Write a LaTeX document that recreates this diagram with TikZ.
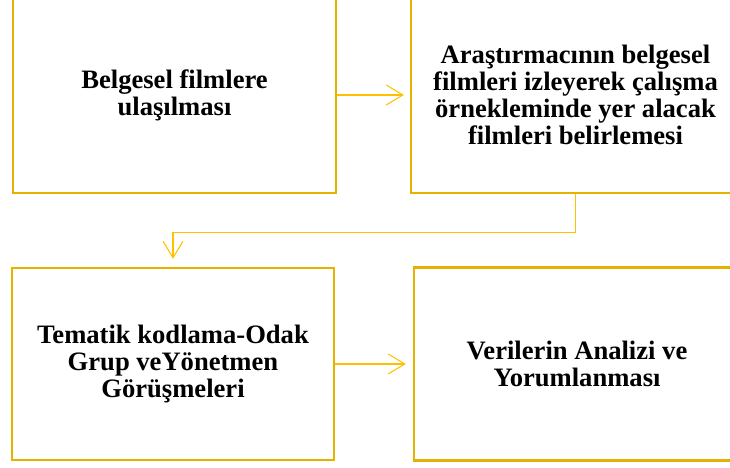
\documentclass[tikz,border=0pt]{standalone}
\usepackage{fontspec}
\setmainfont{Liberation Serif}
\usepackage{tikz}
\usetikzlibrary{positioning, arrows.meta, calc}

\definecolor{boxgold}{RGB}{230,178,0}
\definecolor{linegold}{RGB}{255,192,0}

\tikzset{
    stepbox/.style={draw=boxgold, line width=1.9pt, align=center,
        font=\bfseries\fontsize{22.7}{23}\selectfont, inner sep=0pt},
    conn/.style={draw=linegold, line width=0.9pt,
        -{Straight Barb[length=0.5cm, width=0.6cm, line width=0.9pt]}}
}

\begin{document}
\begin{tikzpicture}
    \useasboundingbox (0,0) rectangle (21.9,14.04);
    % Top row
    \node[stepbox, minimum width=9.69cm, minimum height=5.88cm] (erisim) at (5.235,11.19)
        {Belgesel filmlere\\ulaşılması};
    \node[stepbox, minimum width=9.87cm, minimum height=5.88cm] (secim) at (17.265,11.19)
        {Araştırmacının belgesel\\filmleri izleyerek çalışma\\örnekleminde yer alacak\\filmleri belirlemesi};
    % Bottom row
    \node[stepbox, minimum width=9.66cm, minimum height=5.76cm] (kodlama) at (5.19,3.12)
        {Tematik kodlama-Odak\\Grup veYönetmen\\Görüşmeleri};
    \node[stepbox, minimum width=9.78cm, minimum height=5.79cm] (analiz) at (17.31,3.12)
        {Verilerin Analizi ve\\Yorumlanması};
    % Connectors
    \draw[conn, shorten >=0.18cm] (erisim) -- (secim);
    \draw[conn, shorten >=0.24cm] (secim.south) -- ++(0,-1.14) -| (kodlama.north);
    \draw[conn, shorten >=0.21cm] (kodlama) -- (analiz);
\end{tikzpicture}
\end{document}
